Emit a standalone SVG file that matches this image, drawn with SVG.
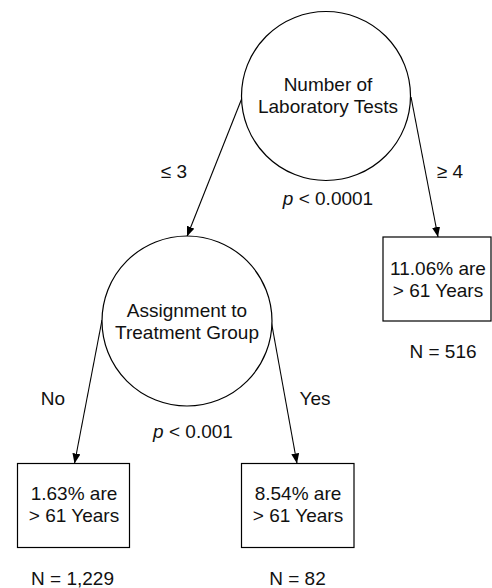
<svg xmlns="http://www.w3.org/2000/svg" width="492" height="588" viewBox="0 0 492 588">
<defs>
<marker id="arr" markerUnits="userSpaceOnUse" markerWidth="10" markerHeight="8" refX="10" refY="4" orient="auto">
<path d="M0,0 L10,4 L0,8 z" fill="#000"/>
</marker>
<style>
.n{fill:#fff;stroke:#000;stroke-width:1.2}
.c{fill:none;stroke:#000;stroke-width:1.1;marker-end:url(#arr)}
text{font-family:"Liberation Sans",Arial,sans-serif;font-size:19px;fill:#111;text-anchor:middle}
</style>
</defs>
<rect width="492" height="588" fill="#fff"/>
<g id="connectors">
<line class="c" x1="242" y1="98" x2="187" y2="236.5"/>
<line class="c" x1="411" y1="97" x2="438" y2="237"/>
<line class="c" x1="102" y1="320" x2="74.5" y2="463.5"/>
<line class="c" x1="271" y1="320" x2="297" y2="463.5"/>
<text x="174" y="178">≤ 3</text>
<text x="450" y="178">≥ 4</text>
<text x="53" y="405">No</text>
<text x="315" y="405">Yes</text>
</g>
<g id="node-lab">
<circle class="n" cx="326" cy="96" r="84.5"/>
<text x="328" y="91">Number of</text>
<text x="328" y="113">Laboratory Tests</text>
<text x="328" y="205"><tspan font-style="italic">p</tspan> &lt; 0.0001</text>
</g>
<g id="node-treat">
<circle class="n" cx="187" cy="321" r="85"/>
<text x="187" y="317">Assignment to</text>
<text x="187" y="339">Treatment Group</text>
<text x="193" y="438"><tspan font-style="italic">p</tspan> &lt; 0.001</text>
</g>
<g id="leaf-ge4">
<rect class="n" x="383" y="237" width="108" height="84"/>
<text x="438" y="275">11.06% are</text>
<text x="438" y="297">&gt; 61 Years</text>
<text x="443" y="358">N = 516</text>
</g>
<g id="leaf-no">
<rect class="n" x="17.5" y="463.5" width="112" height="84"/>
<text x="74" y="500">1.63% are</text>
<text x="74" y="522">&gt; 61 Years</text>
<text x="72.5" y="585">N = 1,229</text>
</g>
<g id="leaf-yes">
<rect class="n" x="241.5" y="463.5" width="112.5" height="84"/>
<text x="298" y="500">8.54% are</text>
<text x="298" y="522">&gt; 61 Years</text>
<text x="297.5" y="585">N = 82</text>
</g>
</svg>
